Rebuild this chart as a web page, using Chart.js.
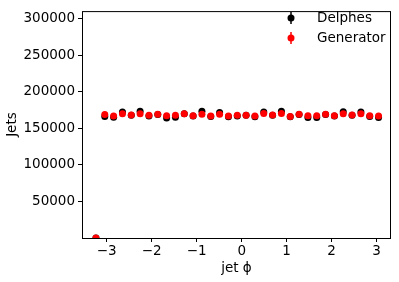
<!DOCTYPE html>
<html lang="en">
<head>
    <meta charset="UTF-8">
    <title>jet phi</title>
    <style>
        body {
            margin: 0;
            background-color: white;
        }
        .wrap {
            width: 399px;
            height: 282px;
        }
    </style>
    <script src="https://cdn.jsdelivr.net/npm/chart.js"></script>
</head>
<body>
    <div class="wrap">
        <canvas id="phiChart" width="399" height="282"></canvas>
    </div>
    <script>
        // bin centres: 33 bins of width 2pi/32, first one sits just below -pi
        const binWidth = 2 * Math.PI / 32;
        const binCentres = [];
        for (let i = -1; i < 32; i++) {
            binCentres.push(-Math.PI + binWidth / 2 + i * binWidth);
        }

        const delphes = [0,
            166500, 165500, 172500, 168000, 173500, 167000, 169000, 164500,
            165500, 170000, 167000, 173500, 166500, 172000, 166000, 167000,
            168000, 166000, 172500, 168000, 173500, 166000, 169000, 165000,
            165000, 169000, 167000, 173000, 168000, 172500, 166500, 165000];

        const generator = [0,
            169000, 167000, 170000, 168500, 170000, 168000, 169500, 167500,
            168000, 170000, 167500, 169500, 167000, 169500, 167000, 168000,
            168000, 167000, 170500, 168500, 170500, 166500, 169500, 167500,
            167500, 169500, 167500, 170000, 168500, 170000, 167500, 167000];

        const xTicks = [-3, -2, -1, 0, 1, 2, 3];
        const yTicks = [50000, 100000, 150000, 200000, 250000, 300000];

        const toPoints = vals => vals.map((v, i) => ({ x: binCentres[i], y: v }));

        const font = { family: 'DejaVu Sans', size: 13.5 };

        // box around the plot plus the legend in the top right
        const frameAndLegend = {
            id: 'frameAndLegend',
            afterDraw(chart) {
                const ctx = chart.ctx;
                const a = chart.chartArea;
                ctx.save();
                ctx.strokeStyle = '#000';
                ctx.lineWidth = 1;
                ctx.strokeRect(a.left + 0.5, a.top + 0.5, a.right - a.left - 1, a.bottom - a.top);

                const items = [
                    { label: 'Delphes', color: 'black' },
                    { label: 'Generator', color: 'red' }
                ];
                ctx.font = '13.5px "DejaVu Sans"';
                ctx.textBaseline = 'middle';
                items.forEach((it, i) => {
                    const x = 291, y = 18 + i * 20;
                    ctx.strokeStyle = it.color;
                    ctx.lineWidth = 1.5;
                    ctx.beginPath();
                    ctx.moveTo(x, y - 6);
                    ctx.lineTo(x, y + 6);
                    ctx.stroke();
                    ctx.fillStyle = it.color;
                    ctx.beginPath();
                    ctx.arc(x, y, 3.5, 0, Math.PI * 2);
                    ctx.fill();
                    ctx.fillStyle = '#000';
                    ctx.fillText(it.label, 317, y);
                });
                ctx.restore();
            }
        };

        new Chart(document.getElementById('phiChart'), {
            type: 'scatter',
            data: {
                datasets: [{
                    label: 'Delphes',
                    data: toPoints(delphes),
                    backgroundColor: 'black',
                    borderColor: 'black',
                    pointRadius: 3.5,
                    pointHoverRadius: 3.5,
                    borderWidth: 0,
                    order: 2
                }, {
                    label: 'Generator',
                    data: toPoints(generator),
                    backgroundColor: 'red',
                    borderColor: 'red',
                    pointRadius: 3.5,
                    pointHoverRadius: 3.5,
                    borderWidth: 0,
                    order: 1
                }]
            },
            options: {
                responsive: false,
                animation: false,
                layout: {
                    padding: { top: 6, right: 8, left: 0, bottom: 0 }
                },
                plugins: {
                    legend: { display: false },
                    tooltip: { enabled: false }
                },
                scales: {
                    x: {
                        type: 'linear',
                        min: -3.55,
                        max: 3.32,
                        afterBuildTicks: axis => {
                            axis.ticks = xTicks.map(v => ({ value: v }));
                        },
                        afterFit: axis => { axis.height = 44; },
                        ticks: {
                            color: '#000',
                            font: font,
                            padding: 1,
                            maxRotation: 0,
                            callback: v => String(v).replace('-', '\u2212')
                        },
                        grid: {
                            drawOnChartArea: false,
                            drawTicks: true,
                            tickLength: 4,
                            color: '#000'
                        },
                        border: { display: false },
                        title: {
                            display: true,
                            text: 'jet \u03d5',
                            color: '#000',
                            font: font,
                            padding: { top: 0, bottom: 5 }
                        }
                    },
                    y: {
                        min: 0,
                        max: 310750,
                        afterBuildTicks: axis => {
                            axis.ticks = yTicks.map(v => ({ value: v }));
                        },
                        afterFit: axis => { axis.width = 82; },
                        ticks: {
                            color: '#000',
                            font: font,
                            padding: 3,
                            callback: v => String(v)
                        },
                        grid: {
                            drawOnChartArea: false,
                            drawTicks: true,
                            tickLength: 4,
                            color: '#000'
                        },
                        border: { display: false },
                        title: {
                            display: true,
                            text: 'Jets',
                            color: '#000',
                            font: font,
                            padding: { top: 4, bottom: 0 }
                        }
                    }
                }
            },
            plugins: [frameAndLegend]
        });
    </script>
</body>
</html>
